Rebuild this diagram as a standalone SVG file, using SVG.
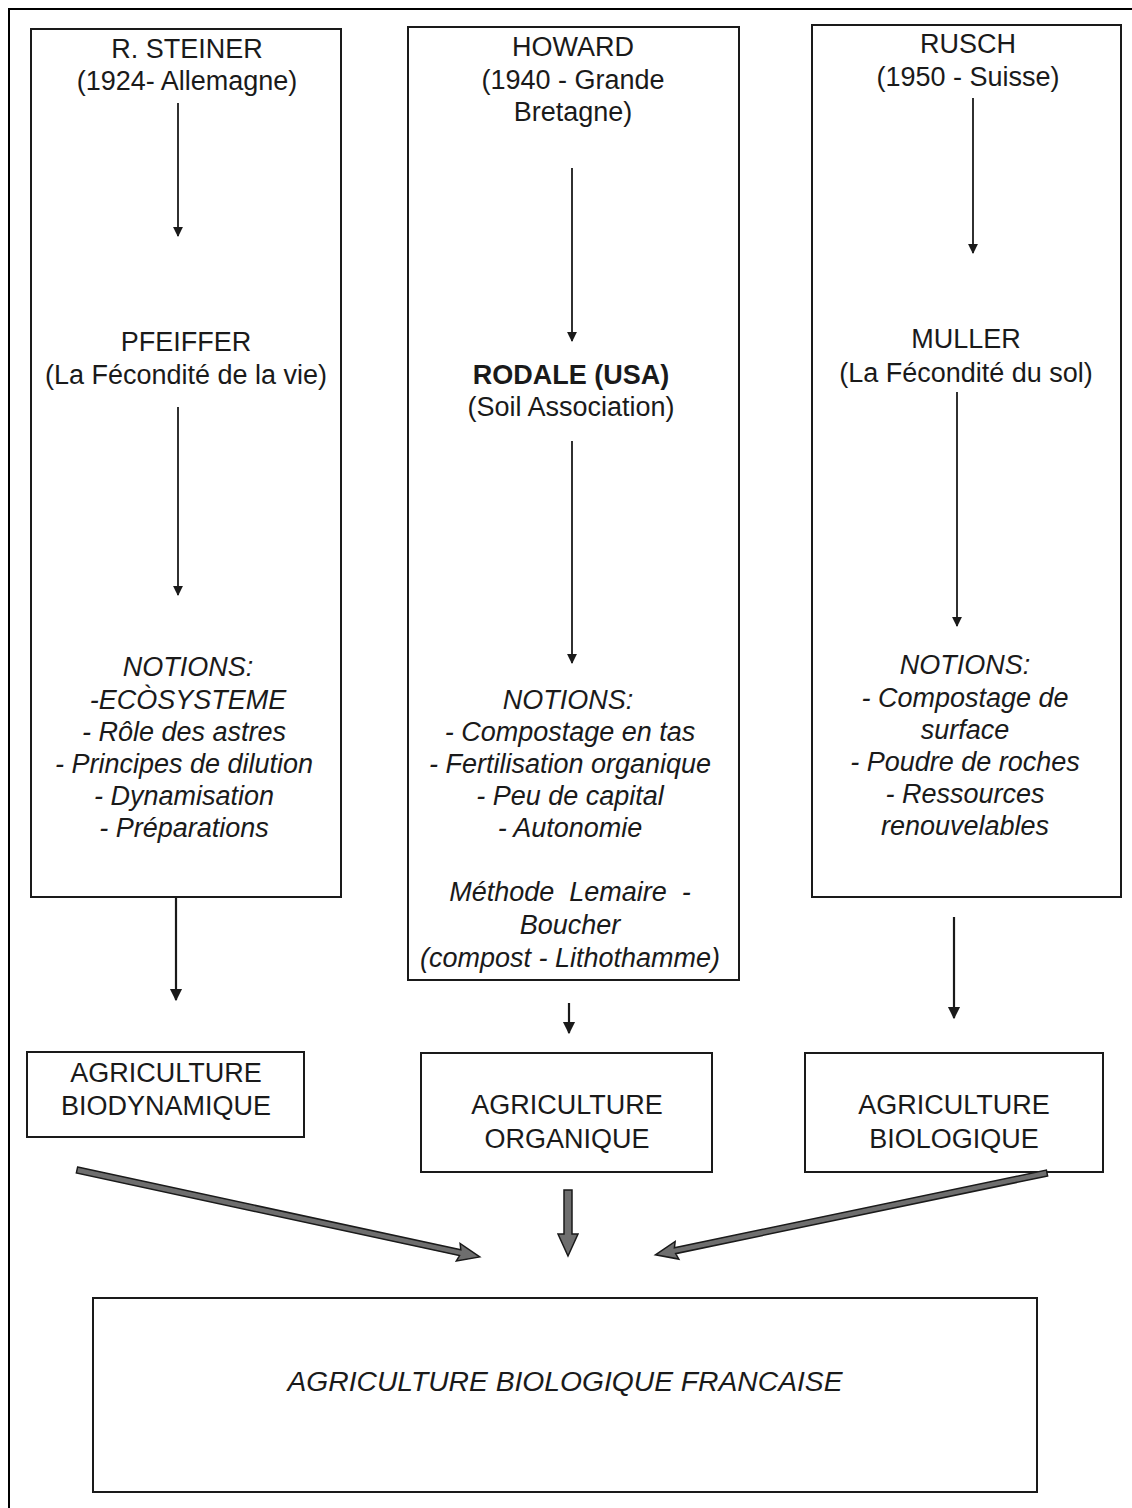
<svg xmlns="http://www.w3.org/2000/svg" width="1132" height="1508" viewBox="0 0 1132 1508">
<defs>
<style>
.box{fill:none;stroke:#1a1a1a;stroke-width:2}
.t{font-family:"Liberation Sans",Arial,sans-serif;font-size:27px;fill:#1a1a1a;text-anchor:middle}
.i{font-style:italic}
.b{font-weight:bold}
.c{stroke:#1a1a1a;stroke-width:1.8;fill:none}
.c2{stroke:#1a1a1a;stroke-width:2.2;fill:none}
.big{fill:#6e6e6e;stroke:#1a1a1a;stroke-width:1.5;stroke-linejoin:miter}
</style>
<marker id="ah" viewBox="0 0 10 10" refX="9" refY="5" markerWidth="5.5" markerHeight="6.5" markerUnits="strokeWidth" orient="auto">
<path d="M0,0 L10,5 L0,10 Z" fill="#1a1a1a"/>
</marker>
</defs>
<rect width="1132" height="1508" fill="#fff"/>
<path d="M9,1508 L9,9 L1132,9" fill="none" stroke="#000" stroke-width="2"/>

<g id="steiner">
<rect class="box" x="31" y="29" width="310" height="868"/>
<text class="t" x="187" y="58">R. STEINER</text>
<text class="t" x="187" y="90">(1924- Allemagne)</text>
</g>
<g id="pfeiffer">
<text class="t" x="186" y="351">PFEIFFER</text>
<text class="t" x="186" y="384">(La Fécondité de la vie)</text>
</g>
<g id="notions1">
<text class="t i" x="188" y="676">NOTIONS:</text>
<text class="t i" x="188" y="709">-ECÒSYSTEME</text>
<text class="t i" x="184" y="741">- Rôle des astres</text>
<text class="t i" x="184" y="773">- Principes de dilution</text>
<text class="t i" x="184" y="805">- Dynamisation</text>
<text class="t i" x="184" y="837">- Préparations</text>
</g>

<g id="howard">
<rect class="box" x="408" y="27" width="331" height="953"/>
<text class="t" x="573" y="56">HOWARD</text>
<text class="t" x="573" y="89">(1940 - Grande</text>
<text class="t" x="573" y="121">Bretagne)</text>
</g>
<g id="rodale">
<text class="t b" x="571" y="384">RODALE (USA)</text>
<text class="t" x="571" y="416">(Soil Association)</text>
</g>
<g id="notions2">
<text class="t i" x="568" y="709">NOTIONS:</text>
<text class="t i" x="570" y="741">- Compostage en tas</text>
<text class="t i" x="570" y="773">- Fertilisation organique</text>
<text class="t i" x="570" y="805">- Peu de capital</text>
<text class="t i" x="570" y="837">- Autonomie</text>
<text class="t i" x="570" y="901" xml:space="preserve">Méthode  Lemaire  -</text>
<text class="t i" x="570" y="934">Boucher</text>
<text class="t i" x="570" y="967">(compost - Lithothamme)</text>
</g>

<g id="rusch">
<rect class="box" x="812" y="25" width="309" height="872"/>
<text class="t" x="968" y="53">RUSCH</text>
<text class="t" x="968" y="86">(1950 - Suisse)</text>
</g>
<g id="muller">
<text class="t" x="966" y="348">MULLER</text>
<text class="t" x="966" y="382">(La Fécondité du sol)</text>
</g>
<g id="notions3">
<text class="t i" x="965" y="674">NOTIONS:</text>
<text class="t i" x="965" y="707">- Compostage de</text>
<text class="t i" x="965" y="739">surface</text>
<text class="t i" x="965" y="771">- Poudre de roches</text>
<text class="t i" x="965" y="803">- Ressources</text>
<text class="t i" x="965" y="835">renouvelables</text>
</g>

<g id="biodynamique">
<rect class="box" x="27" y="1052" width="277" height="85"/>
<text class="t" x="166" y="1082">AGRICULTURE</text>
<text class="t" x="166" y="1115">BIODYNAMIQUE</text>
</g>
<g id="organique">
<rect class="box" x="421" y="1053" width="291" height="119"/>
<text class="t" x="567" y="1114">AGRICULTURE</text>
<text class="t" x="567" y="1148">ORGANIQUE</text>
</g>
<g id="biologique">
<rect class="box" x="805" y="1053" width="298" height="119"/>
<text class="t" x="954" y="1114">AGRICULTURE</text>
<text class="t" x="954" y="1148">BIOLOGIQUE</text>
</g>
<g id="francaise">
<rect class="box" x="93" y="1298" width="944" height="194"/>
<text class="t i" x="565" y="1391" textLength="555" lengthAdjust="spacingAndGlyphs">AGRICULTURE BIOLOGIQUE FRANCAISE</text>
</g>

<g id="connectors">
<line class="c" x1="178" y1="103" x2="178" y2="236" marker-end="url(#ah)"/>
<line class="c" x1="178" y1="407" x2="178" y2="595" marker-end="url(#ah)"/>
<line class="c2" x1="176" y1="897" x2="176" y2="1000" marker-end="url(#ah)"/>
<line class="c" x1="572" y1="168" x2="572" y2="341" marker-end="url(#ah)"/>
<line class="c" x1="572" y1="441" x2="572" y2="663" marker-end="url(#ah)"/>
<line class="c2" x1="569" y1="1003" x2="569" y2="1033" marker-end="url(#ah)"/>
<line class="c" x1="973" y1="98" x2="973" y2="253" marker-end="url(#ah)"/>
<line class="c" x1="957" y1="392" x2="957" y2="626" marker-end="url(#ah)"/>
<line class="c2" x1="954" y1="917" x2="954" y2="1018" marker-end="url(#ah)"/>
<g transform="translate(77,1170) rotate(12.18)">
<path class="big" d="M0,-3 L392,-3 L390,-9 L412,0 L390,9 L392,3 L0,3 Z"/>
</g>
<g transform="translate(568,1190) rotate(90)">
<path class="big" d="M0,-4 L44,-4 L44,-10 L66,0 L44,10 L44,4 L0,4 Z"/>
</g>
<g transform="translate(1047,1173) rotate(168.2)">
<path class="big" d="M0,-3 L380,-3 L378,-9 L400,0 L378,9 L380,3 L0,3 Z"/>
</g>
</g>
</svg>
